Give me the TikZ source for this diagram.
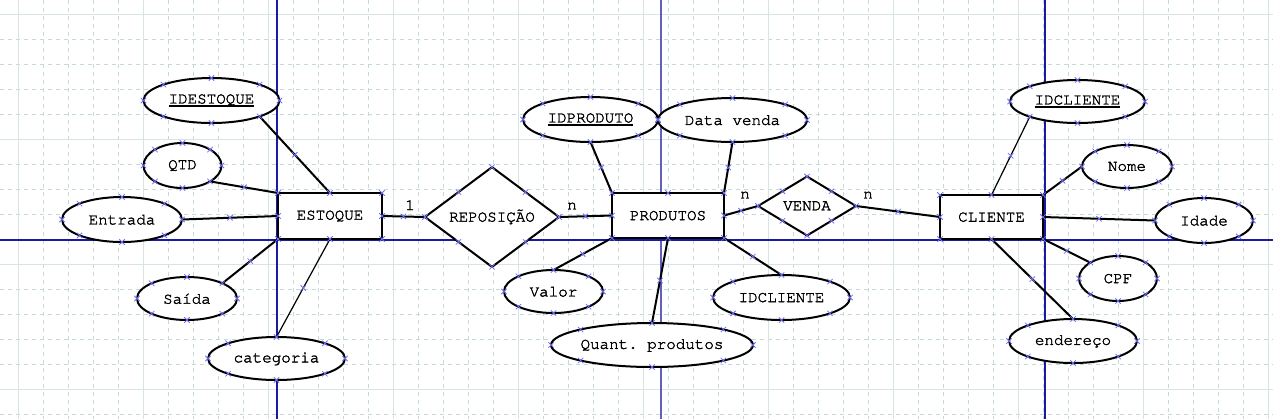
\documentclass[tikz,border=0pt]{standalone}
\usepackage{fontspec}
\newcommand\courfont{\fontencoding{T1}\fontfamily{pcr}\fontseries{m}\fontshape{n}\selectfont\frenchspacing}
\usetikzlibrary{shapes.geometric,shapes.misc}
\definecolor{gridmaj}{RGB}{214,228,228}
\definecolor{gridmin}{RGB}{196,218,214}
\definecolor{axisblue}{RGB}{26,26,160}
\definecolor{axisblue2}{RGB}{96,96,192}
\definecolor{xcol}{RGB}{110,110,240}
\newcommand\heavytext[1]{\special{pdf:literal 2 Tr 0.22 w}#1\special{pdf:literal 0 Tr}}
\tikzset{
  every node/.style={font=\courfont\fontsize{11.9}{13}\selectfont, text=black},
  ent/.style={draw, rectangle, line width=1.5pt, fill=white, inner sep=0pt, outer sep=0pt},
  attr/.style={draw, ellipse, line width=1.5pt, fill=white, inner sep=0pt, outer sep=0pt},
  rel/.style={draw, diamond, line width=1.5pt, fill=white, inner sep=0pt, outer sep=0pt},
  conn/.style={line width=1.5pt},
  thinconn/.style={line width=0.9pt},
  card/.style={inner sep=0pt},
  xnode/.style={cross out, draw=xcol, line width=0.55pt, minimum size=4pt, inner sep=0pt, outer sep=0pt},
  minorgrid/.style={gridmin, line width=0.6pt, dash pattern=on 3pt off 3pt},
  majorgrid/.style={gridmaj, line width=0.75pt},
}
\newcommand\shapemarks[1]{\foreach \a in {north,south,east,west,north east,north west,south east,south west}{\node[xnode] at (#1.\a) {};}}
\newcommand\keyul[1]{\setbox0\hbox{#1}\rlap{\rule[-2.6pt]{\wd0}{1.2pt}}\box0}
\begin{document}
\begin{tikzpicture}[x=0.75pt,y=-0.75pt]
\useasboundingbox (0,0) rectangle (1273,419);
\fill[white] (0,0) rectangle (1273,419);
% grid
\foreach \x in {43,68,...,1268} \draw[minorgrid] (\x,0) -- (\x,419);
\foreach \y in {14,39,...,414} \draw[minorgrid] (0,\y) -- (1273,\y);
\foreach \x in {18,143,...,1268} \draw[majorgrid] (\x,0) -- (\x,419);
\foreach \y in {14,139,264,389} \draw[majorgrid] (0,\y) -- (1273,\y);
\draw[axisblue, line width=0.9pt] (277,0) -- (277,419);
\draw[axisblue, line width=0.9pt] (1045,0) -- (1045,419);
\draw[axisblue2, line width=1.4pt] (661,0) -- (661,419);
\draw[axisblue, line width=0.9pt] (0,240) -- (1273,240);

% entities
\node[ent, minimum width=78pt, minimum height=34.5pt] (estoque) at (330,216) {\heavytext{ESTOQUE}};
\node[ent, minimum width=84pt, minimum height=33.75pt] (produtos) at (668,215.5) {\heavytext{PRODUTOS}};
\node[ent, minimum width=77.25pt, minimum height=33pt] (cliente) at (991.5,217) {\heavytext{CLIENTE}};
% relationships
\node[rel, minimum width=100.5pt, minimum height=61.5pt] (repos) at (492,217) {\heavytext{REPOSIÇÃO}};
\node[rel, minimum width=73.5pt, minimum height=44.25pt] (venda) at (807,206) {\heavytext{VENDA}};
% attributes
\node[attr, minimum width=102pt, minimum height=33.75pt] (idest) at (211.5,100.5) {\keyul{\heavytext{IDESTOQUE}}};
\node[attr, minimum width=58.5pt, minimum height=33.75pt] (qtd) at (182.5,165.5) {\heavytext{QTD}};
\node[attr, minimum width=90pt, minimum height=33.75pt] (entrada) at (122,219.5) {\heavytext{Entrada}};
\node[attr, minimum width=75pt, minimum height=32.25pt] (saida) at (187,298.5) {\heavytext{Saída}};
\node[attr, minimum width=102.75pt, minimum height=32.25pt] (categoria) at (276.5,358.5) {\heavytext{categoria}};
\node[attr, minimum width=101.25pt, minimum height=33.75pt] (idprod) at (590.5,119.5) {\keyul{\heavytext{IDPRODUTO}}};
\node[attr, minimum width=111.75pt, minimum height=33pt] (datav) at (732.5,120) {\heavytext{Data venda}};
\node[attr, minimum width=74.25pt, minimum height=32.25pt] (valor) at (553.5,291.5) {\heavytext{Valor}};
\node[attr, minimum width=147pt, minimum height=33pt] (quant) at (652,345) {\heavytext{Quant. produtos}};
\node[attr, minimum width=102.75pt, minimum height=33.75pt] (idcli2) at (781.5,297.5) {\heavytext{IDCLIENTE}};
\node[attr, minimum width=101.25pt, minimum height=32.25pt] (idcli) at (1077.5,101.5) {\keyul{\heavytext{IDCLIENTE}}};
\node[attr, minimum width=67.5pt, minimum height=32.25pt] (nome) at (1127,166.5) {\heavytext{Nome}};
\node[attr, minimum width=73.5pt, minimum height=33.75pt] (idade) at (1204,220.5) {\heavytext{Idade}};
\node[attr, minimum width=58.5pt, minimum height=33.75pt] (cpf) at (1118,278.5) {\heavytext{CPF}};
\node[attr, minimum width=96pt, minimum height=33pt] (ender) at (1073,341) {\heavytext{endereço}};

% connectors
\draw[conn] (idest.south east) -- node[xnode]{} (estoque.north);
\draw[conn] (qtd.south east) -- node[xnode]{} (estoque.north west);
\draw[conn] (entrada.east) -- node[xnode]{} (estoque.west);
\draw[conn] (saida.north east) -- node[xnode]{} (estoque.south west);
\draw[thinconn] (categoria.north) -- node[xnode]{} (estoque.south);
\draw[conn] (estoque.east) -- node[xnode]{} (repos.west);
\draw[conn] (repos.east) -- node[xnode]{} (produtos.west);
\draw[conn] (idprod.south) -- node[xnode]{} (produtos.north west);
\draw[conn] (datav.south) -- node[xnode]{} (produtos.north east);
\draw[conn] (valor.north) -- node[xnode]{} (produtos.south west);
\draw[conn] (quant.north) -- node[xnode]{} (produtos.south);
\draw[conn] (idcli2.north) -- node[xnode]{} (produtos.south east);
\draw[conn] (produtos.east) -- node[xnode]{} (venda.west);
\draw[conn] (venda.east) -- node[xnode]{} (cliente.west);
\draw[thinconn] (idcli.south west) -- node[xnode]{} (cliente.north);
\draw[conn] (nome.west) -- node[xnode]{} (cliente.north east);
\draw[conn] (idade.west) -- node[xnode]{} (cliente.east);
\draw[conn] (cpf.north west) -- node[xnode]{} (cliente.south east);
\draw[conn] (ender.north) -- node[xnode]{} (cliente.south);

% cardinalities
\node[card] (c1) at (410,205) {\heavytext{1}};
\node[card] (c2) at (572,206) {\heavytext{n}};
\node[card] (c3) at (745,195) {\heavytext{n}};
\node[card] (c4) at (868,195) {\heavytext{n}};

% selection marks
\foreach \n in {estoque,produtos,cliente,repos,venda,idest,qtd,entrada,saida,categoria,idprod,datav,valor,quant,idcli2,idcli,nome,idade,cpf,ender}{\shapemarks{\n}}
\end{tikzpicture}
\end{document}
